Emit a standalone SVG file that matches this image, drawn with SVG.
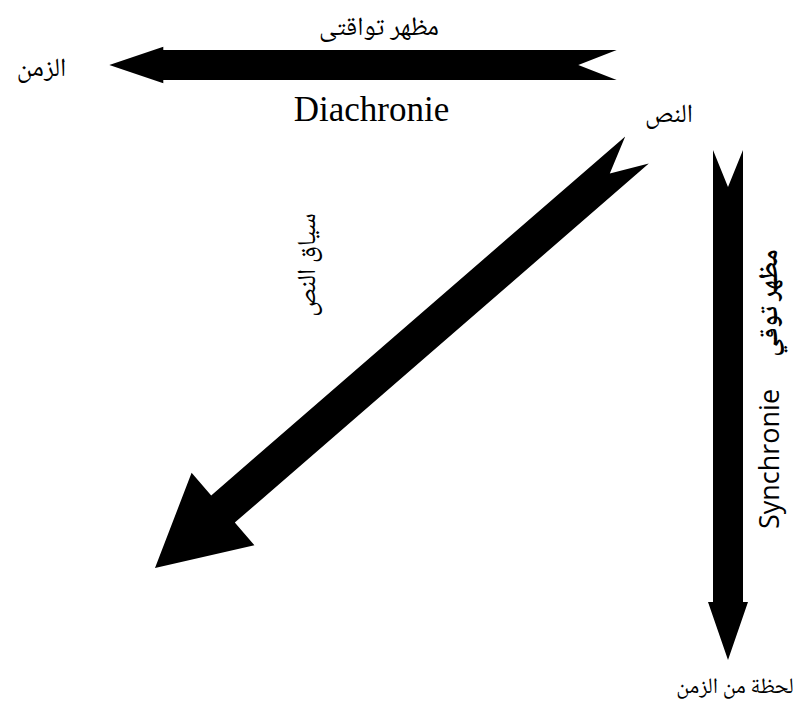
<svg xmlns="http://www.w3.org/2000/svg" width="798" height="707" viewBox="0 0 798 707">
<style>
.ar{font-family:"Noto Naskh Arabic","Liberation Serif","DejaVu Sans",serif;font-size:26px;fill:#000;text-anchor:middle}
.arb{font-weight:bold}
.lat{font-family:"Liberation Serif",serif;font-size:35px;fill:#000;text-anchor:middle}
.sans{font-family:"Open Sans","Liberation Sans",sans-serif;font-size:27px;fill:#000;text-anchor:middle}
.arrow{fill:#000;stroke:none}
</style>
<rect width="798" height="707" fill="#fff"/>
<g id="connectors">
<polygon id="arrow-diachronie" class="arrow" points="109.3,65 163.3,46.7 163.3,50 616.7,50 578.3,65 616.7,80 163.3,80 163.3,83.3"/>
<polygon id="arrow-synchronie" class="arrow" points="713,150 728,187 743,150 743,602 748,602 728,660 708,602 713,602"/>
<polygon id="arrow-context" class="arrow" points="155,568 191.6,472.8 211.2,495.4 625.2,136.4 609.8,173.6 648.8,163.6 234.8,522.6 254.4,545.2"/>
</g>
<g id="node-time">
<text class="ar" x="41.5" y="76">الزمن</text>
</g>
<g id="node-diachronic-label">
<text class="ar" x="379" y="35">مظهر تواقتى</text>
<text class="lat" x="371.5" y="120.5">Diachronie</text>
</g>
<g id="node-text">
<text class="ar" x="669" y="122">النص</text>
</g>
<g id="node-context">
<text class="ar" transform="translate(315,265) rotate(-90)" x="0" y="0">سياق النص</text>
</g>
<g id="node-synchronic-label">
<text class="ar arb" transform="translate(777,303) rotate(-90)" x="0" y="0">مظهر توقي</text>
<text class="sans" transform="translate(779,459) rotate(-90)" x="0" y="0">Synchronie</text>
</g>
<g id="node-moment">
<text class="ar" style="font-size:22px" x="735" y="693">لحظة من الزمن</text>
</g>
</svg>
